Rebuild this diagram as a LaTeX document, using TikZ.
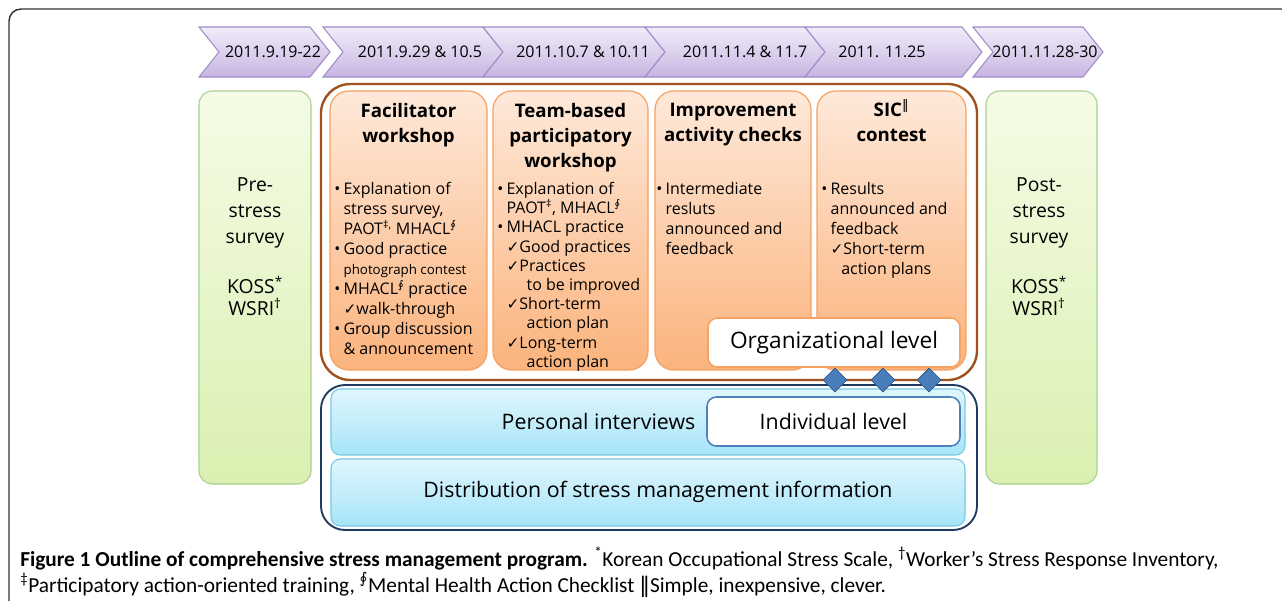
\documentclass[tikz,border=0pt]{standalone}
\usepackage{fontspec}
\setmainfont{Open Sans}
\newfontfamily\symf{DejaVu Sans}
\newfontfamily\capf{Carlito}
\usetikzlibrary{shapes.geometric, fit, positioning}

\definecolor{chevT}{HTML}{F1ECF9}
\definecolor{chevB}{HTML}{C7B5E1}
\definecolor{chevD}{HTML}{9D8BC7}
\definecolor{grnT}{HTML}{F5FBE6}
\definecolor{grnB}{HTML}{DAF0B0}
\definecolor{grnD}{HTML}{A8D08D}
\definecolor{orgT}{HTML}{FEE9DA}
\definecolor{orgB}{HTML}{FBB37C}
\definecolor{orgD}{HTML}{F5A262}
\definecolor{brnD}{HTML}{A0521E}
\definecolor{navyD}{HTML}{1F3A60}
\definecolor{bluT}{HTML}{E0F6FD}
\definecolor{bluB}{HTML}{A6E4F8}
\definecolor{bluD}{HTML}{78C8E2}
\definecolor{indD}{HTML}{4F81BD}
\definecolor{dmdF}{HTML}{4A7EBB}
\definecolor{dmdD}{HTML}{2E5A8C}
\definecolor{frameC}{HTML}{333333}

\newcommand{\ci}{\textsuperscript{\symf ∮}}
\newcommand{\cmark}{{\symf\fontsize{11.5}{12}\selectfont ✓}}
\newcommand{\bt}{\makebox[7pt][l]{•}}
\newcommand{\ind}{\hspace*{7pt}}

\begin{document}
\begin{tikzpicture}[x=0.75pt, y=-0.75pt,
    chev/.style={draw=chevD, top color=chevT, bottom color=chevB, line width=0.8pt},
    dtxt/.style={font=\fontsize{12}{14}\selectfont, inner sep=0},
    survey/.style={draw=grnD, top color=grnT, bottom color=grnB, rounded corners=10pt, line width=0.8pt, inner sep=0},
    act/.style={draw=orgD, top color=orgT, bottom color=orgB, rounded corners=14pt, line width=0.9pt, inner sep=0},
    info/.style={draw=bluD, top color=bluT, bottom color=bluB, rounded corners=7pt, line width=0.8pt, inner sep=0},
    lvl/.style={fill=white, rounded corners=7pt, line width=1.2pt, inner sep=0},
    stxt/.style={font=\fontsize{14.5}{19.5}\selectfont, align=center, anchor=north, inner sep=0},
    ttl/.style={font=\fontsize{14}{18.7}\selectfont\bfseries, align=center, anchor=north, inner sep=0},
    bdy/.style={font=\fontsize{12}{15}\selectfont, align=left, anchor=north west, inner sep=0},
    big/.style={font=\fontsize{16}{19}\selectfont, inner sep=0},
    dmd/.style={diamond, draw=dmdD, fill=dmdF, minimum width=18pt, minimum height=18pt, inner sep=0, line width=0.6pt},
    capt/.style={font=\capf\fontsize{16}{19}\selectfont, anchor=base west, inner sep=0}
  ]
  \useasboundingbox (0,0) rectangle (1282,601);
  % frame round the figure
  \draw[frameC, line width=1.1pt, rounded corners=9pt] (9,601) -- (9,9) -- (1282,9);

  % dates
  \foreach \l/\r/\c/\t [count=\i] in {199/330/273/2011.9.19-22, 323/503/420/2011.9.29 \& 10.5,
      483/665/583/2011.10.7 \& 10.11, 645/825/745/2011.11.4 \& 11.7,
      805/982/882/2011. 11.25, 973/1103/1045/2011.11.28-30} {
    \path[chev] (\l,27) -- (\r-20,27) -- (\r,52) -- (\r-20,77) -- (\l,77) -- (\l+20,52) -- cycle;
    \node[dtxt] (d\i) at (\c,52) {\t};
  }

  % pre and post surveys
  \node[survey, fit={(199,91) (311,484)}] (pre) {};
  \node[survey, fit={(986,91) (1097,484)}] (post) {};
  \node[stxt] (preT) at (255,177) {Pre-\\stress\\survey};
  \node[stxt, font=\fontsize{14.5}{16.5}\selectfont] (preK) at (255,276) {KOSS\textsuperscript{*}\\WSRI\textsuperscript{†}};
  \node[stxt] (postT) at (1039,177) {Post-\\stress\\survey};
  \node[stxt, font=\fontsize{14.5}{16.5}\selectfont] (postK) at (1039,276) {KOSS\textsuperscript{*}\\WSRI\textsuperscript{†}};

  % individual level
  \node[draw=navyD, line width=1.4pt, rounded corners=18pt, inner sep=0, fit={(321,385) (977,530)}] (indiv) {};
  \node[info, fit={(331,389) (965,455)}] (pint) {};
  \node[info, fit={(331,459) (965,526)}] (dist) {};
  \node[lvl, draw=indD, fit={(707,397) (960,446)}] (indl) {};
  \node[big] (indlT) at (indl.center) {Individual level};
  \node[big, left=8pt of indl] (pintT) {Personal interviews};
  \node[big] (distT) at (658,492) {Distribution of stress management information};

  % organizational level
  \node[draw=brnD, line width=1.8pt, rounded corners=22pt, inner sep=0, fit={(321,84) (977,380)}] (org) {};
  \node[act, fit={(330,91) (487,370)}] (o1) {};
  \node[act, fit={(493,91) (648,370)}] (o2) {};
  \node[act, fit={(655,91) (811,370)}] (o3) {};
  \node[act, fit={(817,91) (966,370)}] (o4) {};

  \node[ttl] (o1T) at (o1.center |- 0,103) {Facilitator\\workshop};
  \node[ttl] (o2T) at (o2.center |- 0,103) {Team-based\\participatory\\workshop};
  \node[ttl] (o3T) at (o3.center |- 0,103) {Improvement\\activity checks};
  \node[ttl] (o4T) at (o4.center |- 0,103) {SIC\smash{\textsuperscript{\symf\mdseries ‖}}\\contest};

  \node[bdy] (o1B) at (334,182) {\bt Explanation of\\
    \ind stress survey,\\
    \ind PAOT\textsuperscript{‡,} MHACL\ci\\
    \bt Good practice\\
    \ind{\fontsize{10}{15}\selectfont photograph contest}\\
    \bt MHACL\ci{} practice\\
    \ind\cmark walk-through\\
    \bt Group discussion\\
    \ind\& announcement};
  \node[bdy, font=\fontsize{12}{14.4}\selectfont] (o2B) at (497,182) {\bt Explanation of\\
    \ind PAOT\textsuperscript{‡}, MHACL\ci\\
    \bt MHACL practice\\
    \ind\cmark Good practices\\
    \ind\cmark Practices\\
    \ind\hspace*{15pt}to be improved\\
    \ind\cmark Short-term\\
    \ind\hspace*{15pt}action plan\\
    \ind\cmark Long-term\\
    \ind\hspace*{15pt}action plan};
  \node[bdy] (o3B) at (656,182) {\bt Intermediate\\
    \ind resluts\\
    \ind announced and\\
    \ind feedback};
  \node[bdy] (o4B) at (821,182) {\bt Results\\
    \ind announced and\\
    \ind feedback\\
    \ind\cmark Short-term\\
    \ind\hspace*{8pt}action plans};

  \node[lvl, draw=orgD, fit={(708,318) (960,367)}] (orgl) {};
  \node[big, font=\fontsize{17}{20}\selectfont] (orglT) at (orgl.center) {Organizational level};

  % links between the two levels
  \foreach \x [count=\i] in {835,883,929}
    \node[dmd] (dm\i) at (\x,380) {};

  % caption
  \node[capt] (cap1) at (20,566) {\textbf{Figure 1 Outline of comprehensive stress management program.} \textsuperscript{*}Korean Occupational Stress Scale, \textsuperscript{†}Worker’s Stress Response Inventory,};
  \node[capt] (cap2) at (20,592) {\textsuperscript{‡}Participatory action-oriented training, \textsuperscript{\symf ∮}Mental Health Action Checklist {\symf ‖}Simple, inexpensive, clever.};
\end{tikzpicture}
\end{document}
